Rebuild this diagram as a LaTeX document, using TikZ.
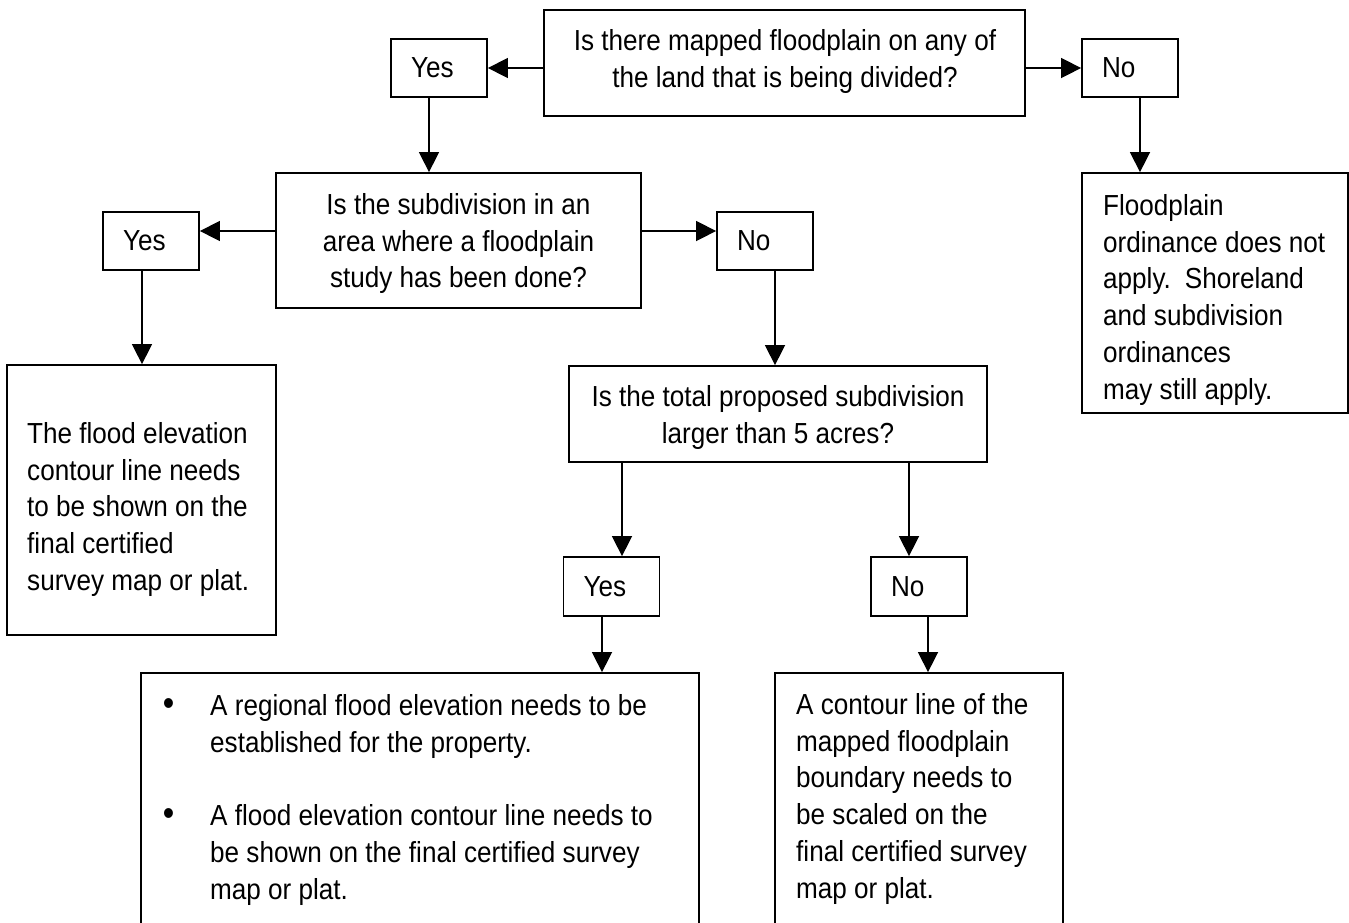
\documentclass[tikz,border=0pt]{standalone}
\usepackage{fontspec}
\setmainfont{Liberation Sans}[FakeStretch=0.9]
\usetikzlibrary{arrows.meta,calc}
\newcommand\diagfs{\fontsize{29}{36.8}\selectfont}
\tikzset{
  fbox/.style={draw, line width=1.8pt, inner sep=0pt, font=\diagfs},
  yn/.style={fbox, minimum width=96pt, minimum height=58pt, text width=56pt, inner xsep=20pt, align=left},
  txt/.style={inner sep=0pt, font=\diagfs},
  arr/.style={line width=1.5pt, -{Triangle[length=20pt,width=20pt]}},
}
\begin{document}
\begin{tikzpicture}[x=1pt,y=-1pt]
\useasboundingbox (0,0) rectangle (1349,922);
\fill[white] (0,0) rectangle (1349,922);
\clip (0,0) rectangle (1349,922);

% boxes
\node[fbox, minimum width=481pt, minimum height=106pt] (q1) at (784.5,63) {};
\node[yn] (yes1) at (439,68) {Yes};
\node[yn] (no1) at (1130,68) {No};
\node[fbox, minimum width=365pt, minimum height=135pt] (q2) at (458.5,240.5) {};
\node[yn] (yes2) at (151,241) {Yes};
\node[yn] (no2) at (765,241) {No};
\node[fbox, minimum width=266pt, minimum height=240pt] (rbox) at (1215,293) {};
\node[fbox, minimum width=269pt, minimum height=270pt] (lbox) at (141.5,500) {};
\node[fbox, minimum width=418pt, minimum height=96pt] (q3) at (778,414) {};
\node[yn, minimum height=59pt] (yes3) at (611.5,586.5) {Yes};
\node[yn, minimum height=59pt] (no3) at (919,586.5) {No};
\node[fbox, minimum width=558pt, minimum height=277pt] (blbox) at (420,811.5) {};
\node[fbox, minimum width=288pt, minimum height=277pt] (brbox) at (919,811.5) {};

% texts
\node[txt, anchor=north, align=center] (q1t) at (785,29)
  {Is there mapped floodplain on any of\\the land that is being divided?};
\node[txt, anchor=north, align=center] (q2t) at (458.5,193)
  {Is the subdivision in an\\area where a floodplain\\study has been done?};
\node[txt, anchor=north, align=center] (q3t) at (778,385)
  {Is the total proposed subdivision\\larger than 5 acres?};
\node[txt, anchor=north west, align=left] (rboxt) at (1103,194)
  {Floodplain\\ordinance does not\\apply.\hspace{14pt}Shoreland\\and subdivision\\ordinances\\may still apply.};
\node[txt, anchor=north west, align=left] (lboxt) at (27,422)
  {The flood elevation\\contour line needs\\to be shown on the\\final certified\\survey map or plat.};
\node[txt, anchor=north west, align=left] (blboxt) at (210,694)
  {\llap{\scalebox{1.25}{\textbullet}\hspace{36pt}}A regional flood elevation needs to be\\
   established for the property.\\[36.8pt]
   \llap{\scalebox{1.25}{\textbullet}\hspace{36pt}}A flood elevation contour line needs to\\
   be shown on the final certified survey\\
   map or plat.};
\node[txt, anchor=north west, align=left] (brboxt) at (796,693)
  {A contour line of the\\mapped floodplain\\boundary needs to\\be scaled on the\\final certified survey\\map or plat.};

% connectors
\draw[arr] (yes1.east -| q1.west) -- (yes1.east);
\draw[arr] (no1.west -| q1.east) -- (no1.west);
\coordinate (c1) at ([xshift=-10pt]yes1.south);
\draw[arr] (c1) -- (c1 |- q2.north);
\coordinate (c2) at ([xshift=10pt]no1.south);
\draw[arr] (c2) -- (c2 |- rbox.north);
\coordinate (q2l) at ([yshift=9.5pt]q2.west);
\coordinate (q2r) at ([yshift=9.5pt]q2.east);
\draw[arr] (q2l) -- (q2l -| yes2.east);
\draw[arr] (q2r) -- (q2r -| no2.west);
\coordinate (c3) at ([xshift=-9pt]yes2.south);
\draw[arr] (c3) -- (c3 |- lbox.north);
\coordinate (c4) at ([xshift=10pt]no2.south);
\draw[arr] (c4) -- (c4 |- q3.north);
\coordinate (c5) at ([xshift=10.5pt]yes3.north);
\draw[arr] (c5 |- q3.south) -- (c5);
\coordinate (c6) at ([xshift=-10pt]no3.north);
\draw[arr] (c6 |- q3.south) -- (c6);
\coordinate (c7) at ([xshift=-9.5pt]yes3.south);
\draw[arr] (c7) -- (c7 |- blbox.north);
\coordinate (c8) at ([xshift=9pt]no3.south);
\draw[arr] (c8) -- (c8 |- brbox.north);
\end{tikzpicture}
\end{document}
